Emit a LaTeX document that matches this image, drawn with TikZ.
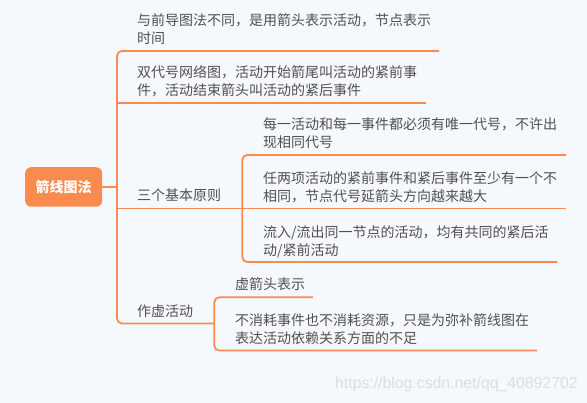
\documentclass[tikz,border=0pt]{standalone}
\usepackage{fontspec}
\newfontfamily\cjk{Noto Sans CJK SC}
\newfontfamily\wmfont{Liberation Sans}
\definecolor{bgc}{RGB}{245,249,253}
\definecolor{org}{RGB}{249,139,78}
\definecolor{txt}{RGB}{80,80,80}
\definecolor{wmc}{RGB}{218,222,227}
\begin{document}
\begin{tikzpicture}[x=1pt,y=-1pt,
  lbl/.style={anchor=north west, inner sep=0pt, align=left, text=txt, font=\cjk\fontsize{14}{18}\selectfont},
  branch/.style={draw=org, line width=1.8pt, rounded corners=5pt},
  rootbox/.style={fill=org, rounded corners=6pt, minimum width=77pt, minimum height=39.5pt, inner sep=0pt, text=white, font=\cjk\bfseries\fontsize{14}{18}\selectfont},
  wmark/.style={anchor=west, inner sep=0pt, text=wmc, font=\wmfont\fontsize{15.8}{16}\selectfont}]
\useasboundingbox (0,0) rectangle (587,403);
\fill[bgc] (0,0) rectangle (587,403);

% root
\node[rootbox] (root) at (63.7,187) {箭线图法};

% level 1 texts
\node[lbl] (t1) at (137,13.5) {与前导图法不同，是用箭头表示活动，节点表示\\时间};
\node[lbl] (t2) at (137,65.5) {双代号网络图，活动开始箭尾叫活动的紧前事\\件，活动结束箭头叫活动的紧后事件};
\node[lbl] (t3) at (137,189) {三个基本原则};
\node[lbl] (t4) at (137,304.5) {作虚活动};

% level 2 texts (three principles)
\node[lbl] (sa) at (263,117) {每一活动和每一事件都必须有唯一代号，不许出\\现相同代号};
\node[lbl] (sb) at (263,171.5) {任两项活动的紧前事件和紧后事件至少有一个不\\相同，节点代号延箭头方向越来越大};
\node[lbl] (sc) at (263,225) {流入/流出同一节点的活动，均有共同的紧后活\\动/紧前活动};

% level 2 texts (dummy activity)
\node[lbl] (da) at (235,277.5) {虚箭头表示};
\node[lbl] (db) at (235,313) {不消耗事件也不消耗资源，只是为弥补箭线图在\\表达活动依赖关系方面的不足};

% coordinates of branch lines
\coordinate (mtop) at (117,51);
\coordinate (mbot) at (117,323.5);
\coordinate (e1) at (439,51);
\coordinate (e2) at (426,103.3);
\coordinate (e3) at (242.3,208.5);
\coordinate (e4) at (214.3,323.5);
\coordinate (ea) at (566,155);
\coordinate (eb) at (566,208.5);
\coordinate (ec) at (557,262);
\coordinate (satop) at (242.3,155);
\coordinate (sabot) at (242.3,262);
\coordinate (eda) at (313,297.3);
\coordinate (edb) at (537,350.5);
\coordinate (datop) at (214.3,297.3);
\coordinate (dabot) at (214.3,350.5);

% main bracket
\draw[branch] (e1) -- (mtop) -- (mbot) -- (e4);
\draw[branch] (root.east) -- (root.east -| mtop);
\draw[branch] (mtop |- e2) -- (e2);
\draw[branch] (mtop |- e3) -- (eb);

% sub bracket: principles
\draw[branch] (ea) -- (satop) -- (sabot) -- (ec);

% sub bracket: dummy activity
\draw[branch] (eda) -- (datop) -- (dabot) -- (edb);

% watermark
\node[wmark] (wm) at (335,384) {https://blog.csdn.net/qq\_40892702};
\end{tikzpicture}
\end{document}
